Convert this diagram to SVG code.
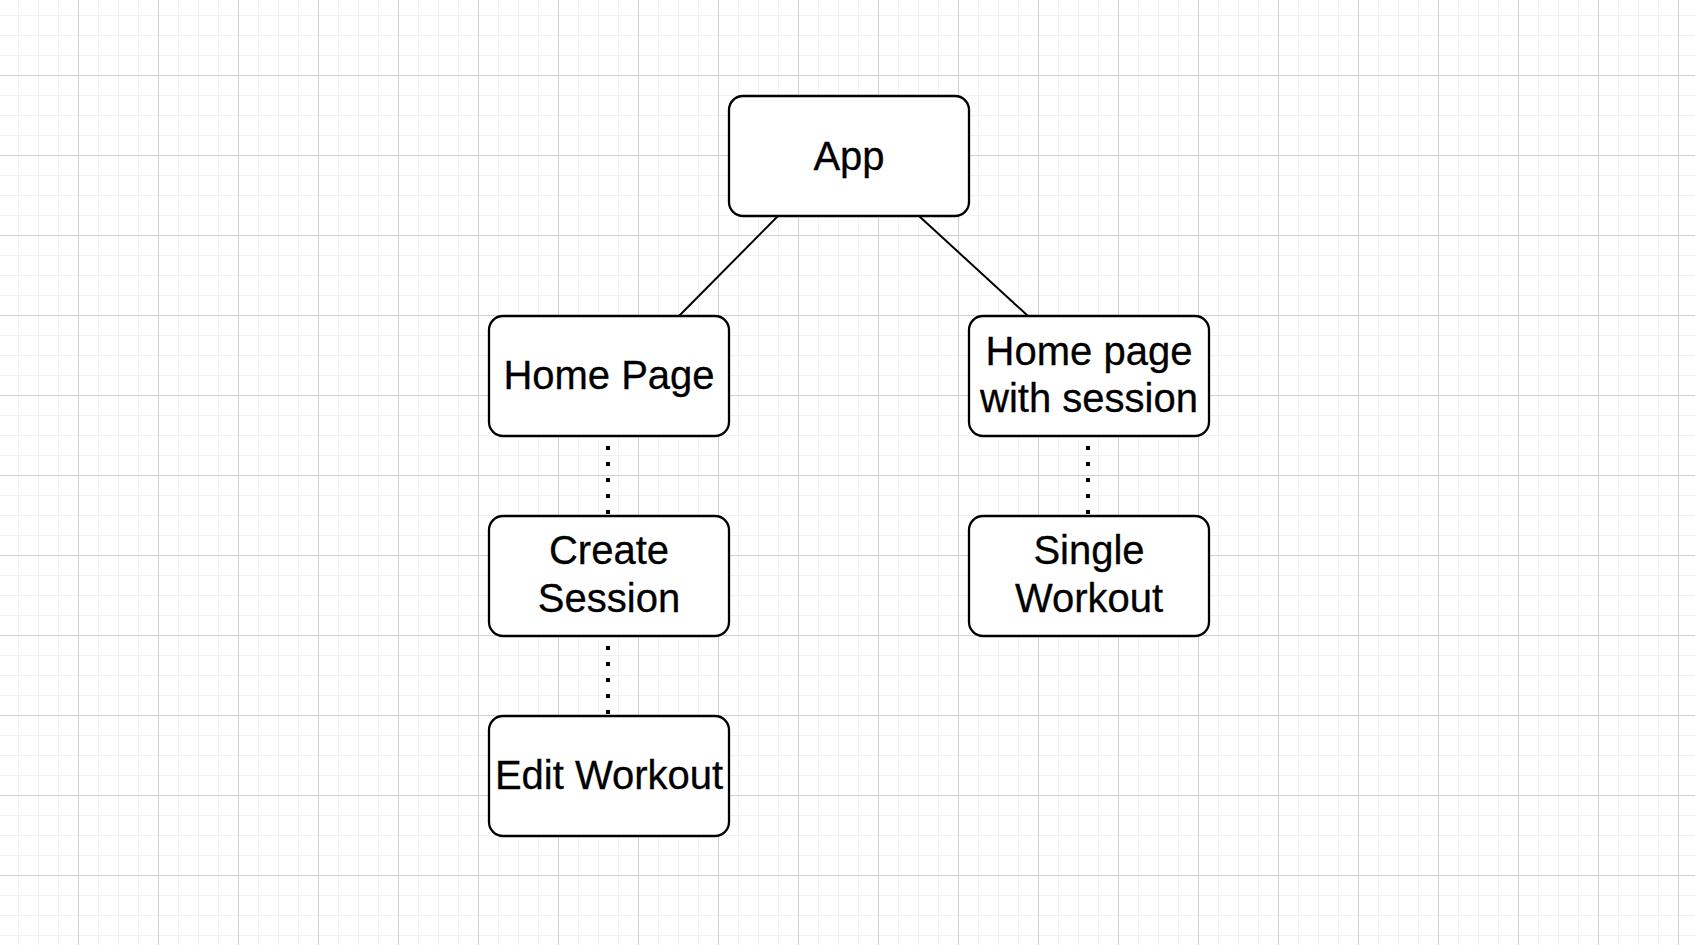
<svg xmlns="http://www.w3.org/2000/svg" width="1695" height="945" viewBox="0 0 1695 945">
  <style>
    .box { fill: #ffffff; stroke: #000000; stroke-width: 2.3; }
    .label { font-family: "Liberation Sans", Arial, Helvetica, sans-serif; font-size: 40px; fill: #000000; text-anchor: middle; stroke: #000000; stroke-width: 0.3; }
    .edge { fill: none; stroke: #000000; stroke-width: 2; }
    .dotted { fill: none; stroke: #000000; stroke-width: 4; stroke-dasharray: 4 12; stroke-dashoffset: 6; }
  </style>
  <defs>
    <pattern id="minorGrid" patternUnits="userSpaceOnUse" x="18" y="15" width="20" height="20">
      <rect x="0" y="0" width="1" height="20" fill="#f1f1f1"/>
      <rect x="0" y="0" width="20" height="1" fill="#f1f1f1"/>
    </pattern>
    <pattern id="majorGrid" patternUnits="userSpaceOnUse" x="78" y="75" width="80" height="80">
      <rect x="0" y="0" width="1" height="80" fill="#d0d0d0"/>
      <rect x="0" y="0" width="80" height="1" fill="#d0d0d0"/>
    </pattern>
  </defs>

  <!-- canvas with grid -->
  <rect width="1695" height="945" fill="#ffffff"/>
  <rect width="1695" height="945" fill="url(#minorGrid)"/>
  <rect width="1695" height="945" fill="url(#majorGrid)"/>

  <!-- connectors -->
  <g id="connectors">
    <line class="edge" x1="778" y1="216" x2="679" y2="316"/>
    <line class="edge" x1="919" y1="216" x2="1028" y2="316"/>
    <line class="dotted" x1="608" y1="436" x2="608" y2="516"/>
    <line class="dotted" x1="608" y1="636" x2="608" y2="716"/>
    <line class="dotted" x1="1088" y1="436" x2="1088" y2="516"/>
  </g>

  <!-- nodes -->
  <g id="app">
    <rect class="box" x="729" y="96" width="240" height="120" rx="14" ry="14"/>
    <text class="label" x="849" y="170">App</text>
  </g>
  <g id="home-page">
    <rect class="box" x="489" y="316" width="240" height="120" rx="14" ry="14"/>
    <text class="label" x="609" y="389">Home Page</text>
  </g>
  <g id="home-page-with-session">
    <rect class="box" x="969" y="316" width="240" height="120" rx="14" ry="14"/>
    <text class="label" x="1089" y="365">Home page</text>
    <text class="label" x="1089" y="412">with session</text>
  </g>
  <g id="create-session">
    <rect class="box" x="489" y="516" width="240" height="120" rx="14" ry="14"/>
    <text class="label" x="609" y="564">Create</text>
    <text class="label" x="609" y="612">Session</text>
  </g>
  <g id="single-workout">
    <rect class="box" x="969" y="516" width="240" height="120" rx="14" ry="14"/>
    <text class="label" x="1089" y="564">Single</text>
    <text class="label" x="1089" y="612">Workout</text>
  </g>
  <g id="edit-workout">
    <rect class="box" x="489" y="716" width="240" height="120" rx="14" ry="14"/>
    <text class="label" x="609" y="789">Edit Workout</text>
  </g>
</svg>
